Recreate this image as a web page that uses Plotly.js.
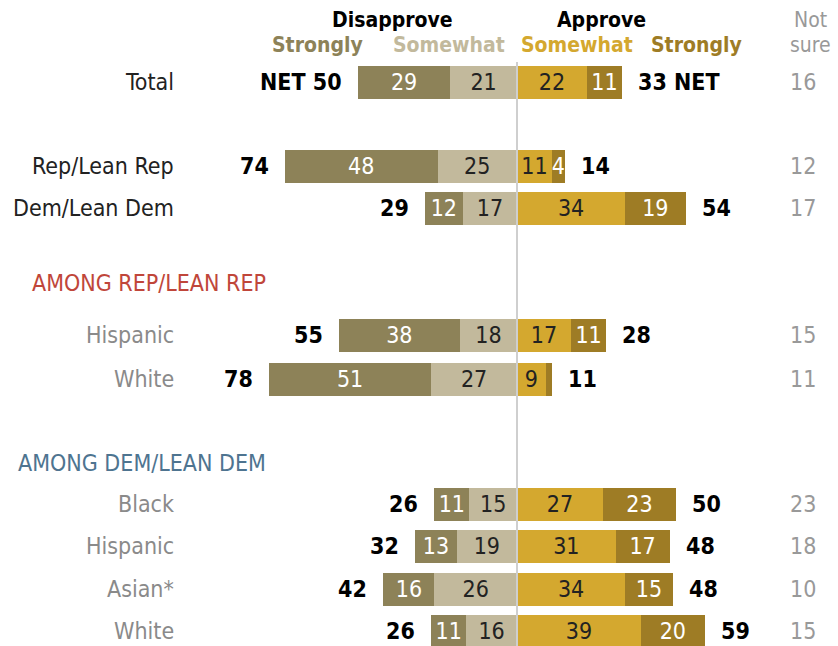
<!DOCTYPE html>
<html>
<head>
<meta charset="utf-8">
<script src="https://cdn.plot.ly/plotly-3.0.1.min.js"></script>
<style>html,body{margin:0;padding:0;background:#fff;}#chart{width:838px;height:646px;}</style>
</head>
<body>
<div id="chart"></div>
<script>
// ---- data ----
const rows = ['Total','Rep/Lean Rep','Dem/Lean Dem','Hispanic','White','Black','Hispanic','Asian*','White'];
const disStrong = [29,48,12,38,51,11,13,16,11];
const disSome   = [21,25,17,18,27,15,19,26,16];
const appSome   = [22,11,34,17,9,27,31,34,39];
const appStrong = [11,4,19,11,2,23,17,15,20];
const disNet    = [50,74,29,55,78,26,32,42,26];
const appNet    = [33,14,54,28,11,50,48,48,59];
const notSure   = [16,12,17,15,11,23,18,10,15];
const groupHeaders = ['AMONG REP/LEAN REP','AMONG DEM/LEAN DEM'];

// ---- layout helpers (positions / styles) ----
const rowY = [82,166,208,335,379,504,546,589,631];
const rowIsMain = [true,true,true,false,false,false,false,false,false];
const headerY = [283,463];
const headerColor = ['#c0463a','#4e7490'];
const headerRight = [268,268];

const FONT = '"DejaVu Sans Condensed",sans-serif';
const C_DS = '#8d8258', C_DW = '#c2b99c', C_AW = '#d4a82f', C_AS = '#9e7c25';
const W = 838, H = 646, CX = 517, PXU = 3.18;
const xr = [-CX/PXU, (W-CX)/PXU];
const FS = 23;

function barTrace(vals, sign, color, txtColor, hideSmall){
  return {
    type:'bar', orientation:'h',
    x: vals.map(v=>sign*v), y: rowY,
    width: 33,
    marker:{color:color, line:{width:0}},
    text: vals.map(v=> (hideSmall && v<3) ? '' : String(v)),
    textposition:'inside', insidetextanchor:'middle', textangle:0,
    constraintext:'none',
    textfont:{family:FONT, size:FS, color:txtColor},
    hoverinfo:'skip', showlegend:false, cliponaxis:false
  };
}
const traces = [
  barTrace(disSome,-1,C_DW,'#222',false),
  barTrace(disStrong,-1,C_DS,'#fff',false),
  barTrace(appSome,1,C_AW,'#222',false),
  barTrace(appStrong,1,C_AS,'#fff',true)
];

const ann = [];
rows.forEach((r,i)=>{
  ann.push({xref:'paper',yref:'y',x:176/W,y:rowY[i],xanchor:'right',yanchor:'middle',
    text:r,showarrow:false,font:{family:FONT,size:FS,color:rowIsMain[i]?'#222':'#8a8a8a'}});
  const dTot = disStrong[i]+disSome[i], aTot = appStrong[i]+appSome[i];
  ann.push({xref:'x',yref:'y',x:-dTot,y:rowY[i],xanchor:'right',yanchor:'middle',xshift:-14,
    text:'<b>'+(i===0?'NET ':'')+disNet[i]+'</b>',showarrow:false,font:{family:FONT,size:FS,color:'#000'}});
  ann.push({xref:'x',yref:'y',x:aTot,y:rowY[i],xanchor:'left',yanchor:'middle',xshift:14,
    text:'<b>'+appNet[i]+(i===0?' NET':'')+'</b>',showarrow:false,font:{family:FONT,size:FS,color:'#000'}});
  ann.push({xref:'paper',yref:'y',x:803/W,y:rowY[i],xanchor:'center',yanchor:'middle',
    text:String(notSure[i]),showarrow:false,font:{family:FONT,size:FS,color:'#999'}});
});
groupHeaders.forEach((g,k)=>{
  ann.push({xref:'paper',yref:'y',x:headerRight[k]/W,y:headerY[k],xanchor:'right',yanchor:'middle',
    text:g,showarrow:false,font:{family:FONT,size:23,color:headerColor[k]}});
});
const colHeads = [
  {t:'<b>Disapprove</b>',x:392,y:20,c:'#000'},
  {t:'<b>Approve</b>',x:601,y:20,c:'#000'},
  {t:'<b>Strongly</b>',x:317,y:45,c:C_DS},
  {t:'<b>Somewhat</b>',x:449,y:45,c:C_DW},
  {t:'<b>Somewhat</b>',x:577,y:45,c:C_AW},
  {t:'<b>Strongly</b>',x:696,y:45,c:C_AS},
  {t:'Not',x:810,y:20,c:'#999'},
  {t:'sure',x:810,y:45,c:'#999'}
];
colHeads.forEach(h=>{
  ann.push({xref:'paper',yref:'y',x:h.x/W,y:h.y,xanchor:'center',yanchor:'middle',
    text:h.t,showarrow:false,font:{family:FONT,size:21,color:h.c}});
});

const layout = {
  width:W,height:H,margin:{l:0,r:0,t:0,b:0},
  paper_bgcolor:'#fff',plot_bgcolor:'#fff',
  barmode:'relative',bargap:0,
  xaxis:{range:xr,visible:false,fixedrange:true,zeroline:false,showgrid:false},
  yaxis:{range:[H,0],visible:false,fixedrange:true,zeroline:false,showgrid:false},
  shapes:[{type:'line',xref:'x',yref:'y',x0:0,x1:0,y0:62,y1:H,line:{color:'#cfcfcf',width:2},layer:'above'}],
  annotations:ann,
  showlegend:false
};
Plotly.newPlot('chart',traces,layout,{displayModeBar:false,staticPlot:true});
</script>
</body>
</html>
